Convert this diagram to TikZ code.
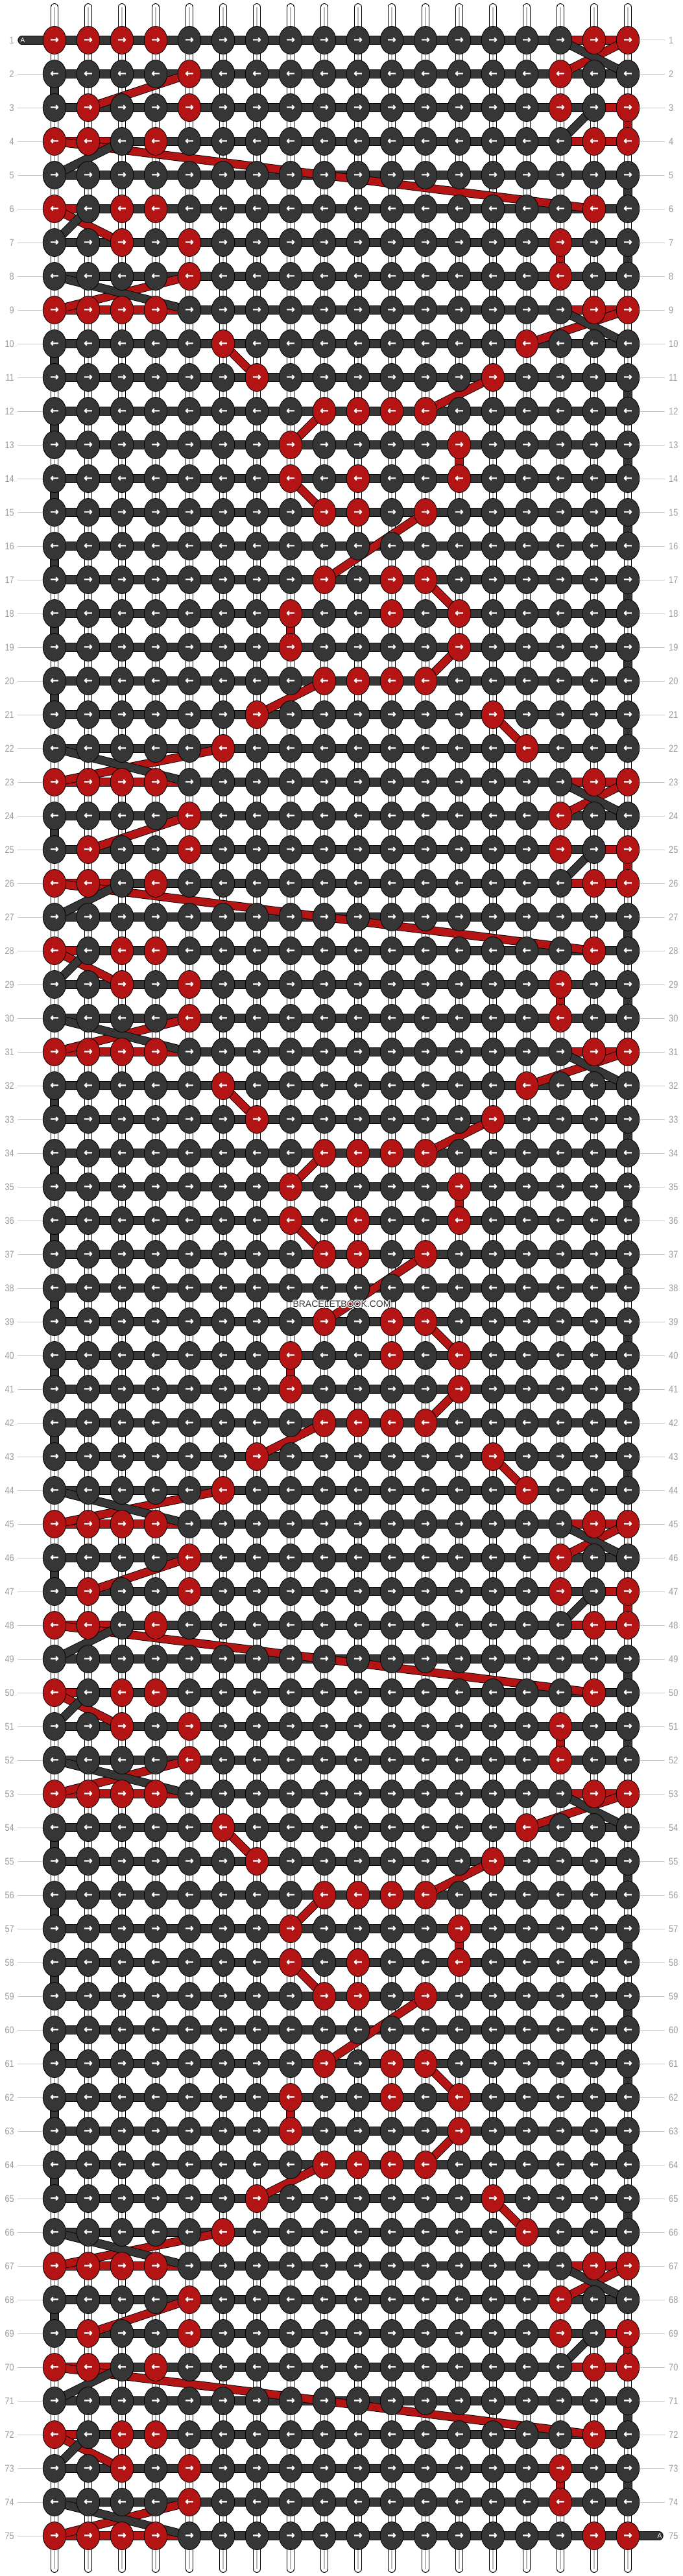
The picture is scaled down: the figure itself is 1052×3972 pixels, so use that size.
\documentclass[tikz,border=0pt]{standalone}
\usepackage{fontspec}
\setmainfont{Liberation Sans}
\newfontfamily\arrowfont[FakeBold=1.2]{DejaVu Sans Bold}
\usepackage{xcolor}
\usetikzlibrary{shapes.geometric,calc}
\definecolor{kred}{HTML}{B41414}
\definecolor{kdark}{HTML}{363636}
\definecolor{labelgrey}{HTML}{9A9A9A}
\definecolor{tickgrey}{HTML}{C6C6C6}
\definecolor{warpgrey}{HTML}{B8B8B8}
\pgfdeclarelayer{strands}
\pgfsetlayers{strands,main}
\tikzset{
    knot/.style={ellipse, draw=black, line width=0.8pt, minimum width=35.5pt, minimum height=43pt, inner sep=0pt, text=white, font=\arrowfont\fontsize{16}{16}\selectfont},
    warp/.style={draw=black, line width=0.9pt, double=white, double distance=10pt, line cap=round},
    warpline/.style={draw=warpgrey, line width=1.2pt},
    bar/.style={draw=black, line width=0.9pt, double=kdark, double distance=11.5pt},
    redbar/.style={bar, double=kred},
    rowlabel/.style={text=labelgrey, font=\fontsize{15}{15}\selectfont, inner sep=0pt},
    rowtick/.style={draw=tickgrey, line width=1pt},
    pilltext/.style={text=white, font=\fontsize{10}{10}\selectfont, inner sep=0pt},
    wmark/.style={font=\fontsize{14}{14}\selectfont, inner sep=0pt}
}
% red knots of each row of the 22-row repeat (0 = none)
\newcommand\redcols[1]{\ifcase#1\or 1,2,3,4,17,18\or 5,16\or 2,5,16,18\or 1,2,4,17,18\or 0\or 1,3,4,17\or 3,5,16\or 5,16\or 1,2,3,4,17,18\or 6,15\or 7,14\or 9,10,11,12\or 8,13\or 8,10,13\or 9,10,12\or 0\or 9,11,12\or 8,11,13\or 8,13\or 9,10,11,12\or 7,14\or 6,15\fi}
% strand piece between two knots, rows counted inside the repeat
\newcommand\strandseg[5]{%
  \pgfmathtruncatemacro\sra{\o+#2}%
  \pgfmathtruncatemacro\srb{\o+#4}%
  \ifnum\srb<76 \ifnum\sra<76 \draw[#1] (k-\sra-#3.center) -- (k-\srb-#5.center);\fi\fi}

\begin{document}
\begin{tikzpicture}[x=1pt, y=-1pt]
    \useasboundingbox (0,0) rectangle (1052,3972);

    % Knots
    \foreach \r in {1,...,75}{
        \pgfmathtruncatemacro\m{mod(\r-1,22)+1}
        \edef\redlist{\redcols{\m}}
        \ifodd\r \def\karrow{→}\else \def\karrow{←}\fi
        \foreach \c in {1,...,18}{
            \gdef\kfill{kdark}
            \foreach \x in \redlist {\ifnum\x=\c\relax \gdef\kfill{kred}\fi}
            \node[knot, fill=\kfill] (k-\r-\c) at ({32+52*\c},{10+52*\r}) {\karrow};
        }
    }

    \begin{pgfonlayer}{strands}
    % Warp strings
    \foreach \c in {1,...,18}{
        \coordinate (wt-\c) at ({32+52*\c},11);
        \coordinate (wb-\c) at ({32+52*\c},3961);
        \draw[warp] (wt-\c) -- (wb-\c);
        \draw[warpline] (wt-\c) -- (wb-\c);
    }

    % Knotting string along each row
    \foreach \r in {1,...,75}
        \draw[bar] (k-\r-1.center) -- (k-\r-18.center);
    \coordinate (w-in) at (34,62);
    \coordinate (w-out) at (1016,3910);
    \draw[bar, line cap=round] (w-in) -- (k-1-1.center);
    \draw[bar, line cap=round] (k-75-18.center) -- (w-out);

    % Red runs and turns at the edges
    \foreach \b in {0,...,3}{
        \pgfmathtruncatemacro\o{22*\b}
        \strandseg{redbar}{1}{16}{1}{18}
        \ifnum\b>0 \strandseg{redbar}{1}{1}{1}{5}\fi
        \strandseg{redbar}{3}{17}{3}{18}
        \strandseg{redbar}{4}{1}{4}{3}
        \strandseg{redbar}{4}{16}{4}{18}
        \strandseg{redbar}{6}{1}{6}{2}
        \strandseg{redbar}{9}{1}{9}{5}
        \ifnum\b<3 \strandseg{redbar}{9}{16}{9}{18}\fi
        \foreach \m in {5,7,11,13,15,17,19,21} {\strandseg{bar}{\m}{18}{\m+1}{18}}
        \foreach \m in {2,10,12,14,16,18,20} {\strandseg{bar}{\m}{1}{\m+1}{1}}
        \strandseg{redbar}{3}{18}{4}{18}
        \strandseg{redbar}{7}{16}{8}{16}
        \strandseg{redbar}{13}{13}{14}{13}
        \strandseg{redbar}{18}{8}{19}{8}
    }

    % Floating strands
    \foreach \b in {0,...,3}{
        \pgfmathtruncatemacro\o{22*\b}
        \strandseg{redbar}{1}{18}{2}{16}
        \strandseg{redbar}{2}{5}{3}{2}
        \strandseg{redbar}{4}{1}{6}{17}
        \strandseg{redbar}{6}{1}{7}{3}
        \strandseg{redbar}{9}{1}{8}{5}
        \strandseg{redbar}{9}{18}{10}{15}
        \strandseg{redbar}{10}{6}{11}{7}
        \strandseg{redbar}{11}{14}{12}{12}
        \strandseg{redbar}{12}{9}{13}{8}
        \strandseg{redbar}{14}{8}{15}{9}
        \strandseg{redbar}{15}{12}{17}{9}
        \strandseg{redbar}{17}{12}{18}{13}
        \strandseg{redbar}{19}{13}{20}{12}
        \strandseg{redbar}{20}{9}{21}{7}
        \strandseg{redbar}{21}{14}{22}{15}
        \strandseg{redbar}{23}{1}{22}{6}
        \strandseg{bar}{1}{16}{2}{18}
        \strandseg{bar}{3}{17}{4}{16}
        \strandseg{bar}{4}{3}{5}{1}
        \strandseg{bar}{6}{2}{7}{1}
        \strandseg{bar}{8}{1}{9}{5}
        \strandseg{bar}{9}{16}{10}{18}
        \strandseg{bar}{22}{1}{23}{5}
    }
    \end{pgfonlayer}

    % Row numbers
    \foreach \r in {1,...,75}{
        \node[rowlabel, anchor=east] (ll-\r) at (22,{10+52*\r}) {\scalebox{0.85}[1]{\r}};
        \node[rowlabel, anchor=west] (rl-\r) at (1031,{10+52*\r}) {\scalebox{0.85}[1]{\r}};
        \ifnum\r>1 \draw[rowtick] ([xshift=5pt]ll-\r.east) -- (k-\r-1);\fi
        \ifnum\r<75 \draw[rowtick] (k-\r-18) -- ([xshift=-6pt]rl-\r.west);\fi
    }
    \node[pilltext] (a-in) at (35,62) {A};
    \node[pilltext] (a-out) at (1017,3910) {A};

    % Watermark
    \foreach \dx/\dy [count=\i] in {-1.2/0,1.2/0,0/-1.2,0/1.2,-1/-1,1/1,-1/1,1/-1}
        \node[wmark, text=white] (wm-\i) at ({527+\dx},{2011+\dy}) {BRACELETBOOK.COM};
    \node[wmark, text=kdark] (wm) at (527,2011) {BRACELETBOOK.COM};
\end{tikzpicture}
\end{document}
